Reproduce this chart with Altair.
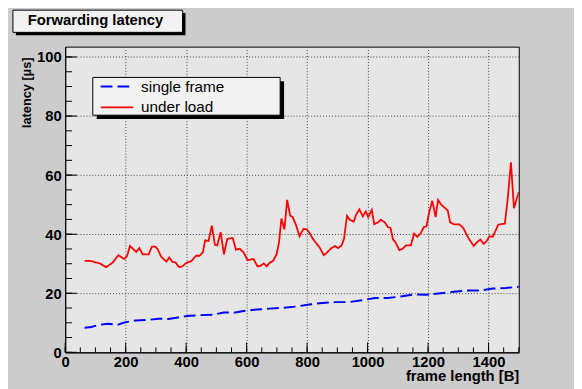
import altair as alt
import pandas as pd

# ---------------- data ----------------
series_names = ["single frame", "under load"]

single_x = [64, 86, 113, 140, 173, 195, 233, 276, 308, 341, 373, 411, 449, 487, 525,
            558, 590, 634, 677, 720, 764, 807, 850, 894, 937, 981, 1024, 1067, 1110,
            1154, 1197, 1241, 1284, 1327, 1371, 1414, 1458, 1500]
single_y = [8.35, 8.6, 9.3, 9.7, 9.3, 10.1, 10.8, 11.0, 11.4, 11.3, 11.8, 12.4, 12.6,
            12.7, 13.5, 13.4, 14.0, 14.5, 14.8, 15.1, 15.5, 16.2, 16.7, 17.0, 17.0,
            17.6, 18.4, 18.4, 18.9, 19.6, 19.5, 20.0, 20.5, 20.9, 20.9, 21.6, 21.8, 22.2]

load_x = [64, 86, 102, 113, 135, 157, 176, 195, 205, 214, 235, 245, 256, 276, 287, 298,
          306, 317, 335, 344, 354, 365, 376, 386, 400, 417, 433, 444, 455, 463, 474, 485,
          495, 503, 514, 525, 536, 554, 565, 577, 590, 603, 623, 636, 646, 657, 666, 677,
          688, 699, 707, 715, 725, 734, 744, 752, 763, 775, 788, 799, 808, 818, 829, 842,
          855, 864, 878, 892, 903, 914, 922, 932, 941, 954, 962, 973, 984, 994, 1002,
          1014, 1022, 1035, 1044, 1057, 1067, 1076, 1084, 1092, 1105, 1116, 1127, 1143,
          1154, 1165, 1176, 1186, 1195, 1203, 1214, 1225, 1233, 1244, 1257, 1265, 1273,
          1286, 1304, 1317, 1327, 1338, 1351, 1362, 1373, 1384, 1394, 1403, 1414, 1432,
          1454, 1463, 1474, 1484, 1500]
load_y = [31.0, 30.9, 30.4, 30.2, 28.8, 30.4, 32.9, 31.6, 32.7, 36.0, 34.0, 35.3, 33.2,
          33.2, 35.8, 35.8, 34.9, 32.4, 30.7, 32.1, 30.7, 30.4, 28.9, 29.0, 30.2, 30.9,
          32.7, 32.7, 33.8, 37.9, 37.7, 42.9, 36.4, 36.2, 40.7, 33.2, 38.4, 38.7, 34.7,
          35.1, 33.8, 31.2, 31.6, 29.1, 29.3, 30.1, 29.1, 30.4, 31.0, 33.2, 37.1, 45.3,
          41.6, 51.6, 46.3, 45.8, 43.2, 39.3, 41.8, 41.6, 40.4, 38.6, 37.1, 35.4, 32.9,
          33.6, 35.1, 36.0, 35.3, 36.2, 38.4, 46.2, 44.9, 44.2, 46.6, 48.4, 46.0, 47.7,
          45.8, 48.2, 43.4, 44.0, 44.9, 44.0, 42.4, 42.1, 38.2, 37.3, 34.6, 35.1, 36.2,
          36.2, 40.2, 39.1, 40.4, 42.4, 42.7, 47.1, 51.3, 45.8, 51.6, 49.9, 48.8, 48.0,
          44.0, 43.3, 43.3, 42.0, 39.9, 38.0, 36.0, 37.3, 38.2, 36.7, 37.7, 39.3, 39.1,
          43.2, 43.6, 51.6, 64.3, 48.8, 54.3]

x_major = [0, 200, 400, 600, 800, 1000, 1200, 1400]
x_minor = list(range(0, 1501, 50))
y_major = [0, 20, 40, 60, 80, 100]
y_minor = list(range(0, 101, 5))

title_text = "Forwarding latency"
x_title = "frame length [B]"
y_title = "latency [µs]"

# ---------------- chart ----------------
W, H = 460, 310
FONT = "Liberation Sans"

df = pd.concat([
    pd.DataFrame({"frame": single_x, "latency": single_y, "series": series_names[0]}),
    pd.DataFrame({"frame": load_x, "latency": load_y, "series": series_names[1]}),
])

xs = alt.Scale(domain=[0, 1500], nice=False, zero=False)
ys = alt.Scale(domain=[0, 103.5], nice=False, zero=False)

x_axis = alt.Axis(
    values=x_major, format="d", title=x_title, grid=True, ticks=False, tickSize=0,
    labelFlush=False, labelOverlap=False, labelPadding=2,
    labelFont=FONT, labelFontWeight="bold", labelFontSize=15, labelColor="black",
    titleFont=FONT, titleFontWeight="bold", titleFontSize=15, titleColor="black",
    titleAlign="right", titleBaseline="alphabetic", titleX=W, titleY=28.7,
    domainColor="black")
y_axis = alt.Axis(
    values=y_major, format="d", title=y_title, grid=True, ticks=False, tickSize=0,
    labelFlush=False, labelOverlap=False, labelPadding=4,
    labelFont=FONT, labelFontWeight="bold", labelFontSize=15, labelColor="black",
    titleFont=FONT, titleFontWeight="bold", titleFontSize=13, titleColor="black",
    titleAngle=270, titleAlign="right", titleBaseline="middle",
    titleX=-39, titleY=10.5, domainColor="black")

leg = alt.Legend(title=None, orient="none", legendX=35, legendY=32.5,
                 symbolType="stroke", symbolSize=1089, symbolStrokeWidth=2,
                 labelFont=FONT, labelFontSize=15.5, labelColor="black",
                 labelOffset=7, clipHeight=16, rowPadding=4, padding=0)

lines = alt.Chart(df).mark_line(clip=True).encode(
    x=alt.X("frame:Q", scale=xs, axis=x_axis),
    y=alt.Y("latency:Q", scale=ys, axis=y_axis),
    color=alt.Color("series:N", scale=alt.Scale(domain=series_names,
                                                range=["#0000ff", "#ff0000"]), legend=leg),
    strokeDash=alt.StrokeDash("series:N", scale=alt.Scale(domain=series_names,
                                                          range=[[12, 5], [1, 0]]), legend=leg),
    strokeWidth=alt.StrokeWidth("series:N", scale=alt.Scale(domain=series_names,
                                                            range=[2, 1.8]), legend=None),
)

def xticks(vals, length):
    return alt.Chart(pd.DataFrame({"t": vals})).mark_rule(color="black", strokeWidth=1).encode(
        x=alt.X("t:Q", scale=xs, axis=x_axis),
        y=alt.value(H), y2=alt.value(H - length))

def yticks(vals, length):
    return alt.Chart(pd.DataFrame({"t": vals})).mark_rule(color="black", strokeWidth=1).encode(
        y=alt.Y("t:Q", scale=ys, axis=y_axis),
        x=alt.value(0), x2=alt.value(length))

one = pd.DataFrame({"a": [0]})

def box(x1, x2, y1, y2, fill, stroke=None):
    kw = dict(fill=fill)
    if stroke:
        kw.update(stroke=stroke, strokeWidth=1)
    return alt.Chart(one).mark_rect(**kw).encode(
        x=alt.value(x1), x2=alt.value(x2), y=alt.value(y1), y2=alt.value(y2))

legend_shadow = box(32, 222, 35.2, 73.5, "black")
legend_box = box(28, 218, 31.2, 69.5, "#f2f2f2", "black")
title_shadow = box(-50, 122, -34, -11.5, "black")
title_box = box(-53, 119, -37, -14.5, "#f2f2f2", "black")
title_label = alt.Chart(one).mark_text(
    align="left", baseline="alphabetic", font=FONT, fontWeight="bold",
    fontSize=15, color="black", text=title_text).encode(
    x=alt.value(-38), y=alt.value(-21.5))

chart = alt.layer(
    lines,
    xticks(x_minor, 5), xticks(x_major, 10),
    yticks(y_minor, 7), yticks(y_major, 12),
    legend_shadow, legend_box,
    title_shadow, title_box, title_label,
).properties(
    width=W, height=H,
    autosize=alt.AutoSizeParams(type="none"),
    padding={"left": 58, "top": 36.5, "right": 56, "bottom": 34.5},
    background="#cccccc",
).configure_view(
    fill="#e6e6e6", stroke="black", strokeWidth=1
).configure_axis(
    gridDash=[1, 2], gridColor="#444444", gridWidth=1, gridOpacity=1
)

chart.save("out.html", embed_options={"renderer": "svg", "actions": False})
